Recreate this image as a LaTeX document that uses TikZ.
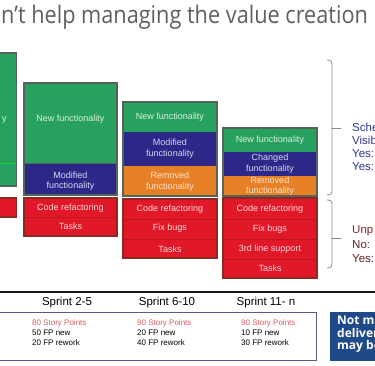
\documentclass[tikz,border=0pt]{standalone}
\usepackage{fontspec}
\setmainfont{Liberation Sans}
\newfontfamily\titlefont{Open Sans}
\definecolor{grn}{RGB}{40,160,95}
\definecolor{ind}{RGB}{45,40,135}
\definecolor{org}{RGB}{232,128,40}
\definecolor{rd}{RGB}{224,24,40}
\definecolor{rdedge}{RGB}{140,42,34}
\definecolor{frame}{RGB}{85,100,88}
\definecolor{ttl}{RGB}{95,95,95}
\definecolor{brc}{RGB}{138,138,138}
\definecolor{schd}{RGB}{46,54,140}
\definecolor{unpl}{RGB}{130,40,40}
\definecolor{pinkt}{RGB}{214,92,100}
\definecolor{nbox}{RGB}{31,74,138}
\definecolor{sprbox}{RGB}{90,90,138}
\begin{document}
\begin{tikzpicture}[x=1pt,y=-1pt,
  lbl/.style={inner sep=0, align=center, font=\fontsize{9}{10.5}\selectfont},
  lg/.style={lbl, text={rgb,255:red,215;green,242;blue,222}},
  lb/.style={lbl, text={rgb,255:red,215;green,212;blue,245}},
  lo/.style={lbl, text={rgb,255:red,252;green,228;blue,205}},
  lr/.style={lbl, text={rgb,255:red,252;green,215;blue,218}},
  stackframe/.style={draw=frame, line width=1.1pt},
  redframe/.style={draw=rdedge, line width=1.1pt},
  sep/.style={draw={rgb,255:red,190;green,20;blue,32}, line width=0.6pt},
  brace/.style={draw=brc, line width=0.8pt, line cap=round},
  side/.style={inner sep=0, anchor=west, font=\fontsize{11.5}{13}\selectfont},
  spr/.style={inner sep=0, font=\fontsize{11.5}{13}\selectfont},
  pts/.style={inner sep=0, anchor=north west, align=left, font=\fontsize{8}{10}\selectfont}
]
\useasboundingbox (0,0) rectangle (375,366);

% title
\node[anchor=base west, inner sep=0, text=ttl, font=\titlefont\fontsize{21.7}{24}\selectfont] (title) at (1,24) {\scalebox{1}[1.12]{n’t help managing the value creation}};

% column 1 (cut off)
\fill[grn] (-3,53) rectangle (16.5,186);
\draw[line width=0.6pt, green!60!grn] (-3,163) -- (16.5,163);
\draw[stackframe] (-3,53) rectangle (16.5,186);
\node[lg, anchor=west] (c1t) at (2,120) {y};
\fill[rd] (-3,198) rectangle (16.5,217);
\draw[redframe] (-3,198) rectangle (16.5,217);

% column 2
\fill[grn] (24,83) rectangle (117,163);
\fill[ind] (24,163) rectangle (117,195);
\draw[frame, line width=0.8pt] (24,163) -- (117,163);
\draw[stackframe] (24,83) rectangle (117,195);
\node[lg] (c2a) at (70.5,119) {New functionality};
\node[lb] (c2b) at (70.5,181) {Modified\\functionality};
\fill[rd] (24,198) rectangle (117,236);
\draw[sep] (24,217) -- (117,217);
\draw[redframe] (24,198) rectangle (117,236);
\node[lr] (c2c) at (70.5,208) {Code refactoring};
\node[lr] (c2d) at (70.5,226.5) {Tasks};

% column 3
\fill[grn] (123,102) rectangle (217,132);
\fill[ind] (123,132) rectangle (217,166);
\fill[org] (123,166) rectangle (217,196);
\draw[stackframe] (123,102) rectangle (217,196);
\node[lg] (c3a) at (170,117) {New functionality};
\node[lb] (c3b) at (170,148.5) {Modified\\functionality};
\node[lo] (c3c) at (170,181.5) {Removed\\functionality};
\fill[rd] (123,199) rectangle (217,258);
\draw[sep] (123,219) -- (217,219);
\draw[sep] (123,239) -- (217,239);
\draw[redframe] (123,199) rectangle (217,258);
\node[lr] (c3d) at (170,209) {Code refactoring};
\node[lr] (c3e) at (170,228.5) {Fix bugs};
\node[lr] (c3f) at (170,249) {Tasks};

% column 4
\fill[grn] (223,128) rectangle (317,152);
\fill[ind] (223,152) rectangle (317,176);
\fill[org] (223,176) rectangle (317,196);
\draw[stackframe] (223,128) rectangle (317,196);
\node[lg] (c4a) at (270,140) {New functionality};
\node[lb] (c4b) at (270,163.5) {Changed\\functionality};
\node[lo] (c4c) at (270,186) {Removed\\functionality};
\fill[rd] (223,198) rectangle (317,278);
\draw[sep] (223,219) -- (317,219);
\draw[sep] (223,239) -- (317,239);
\draw[sep] (223,259) -- (317,259);
\draw[redframe] (223,198) rectangle (317,278);
\node[lr] (c4d) at (270,209) {Code refactoring};
\node[lr] (c4e) at (270,229) {Fix bugs};
\node[lr] (c4f) at (270,249) {3rd line support};
\node[lr] (c4g) at (270,268.5) {Tasks};

% braces
\draw[brace] (327,60) .. controls (331,60) and (332,61) .. (332,65) -- (332,190) .. controls (332,194) and (331,195) .. (327,195);
\draw[brace] (332,128) -- (341,128);
\draw[brace] (327,200) .. controls (331,200) and (332,201) .. (332,205) -- (332,263) .. controls (332,267) and (331,268) .. (327,268);
\draw[brace] (332,238) -- (341,238);

% side texts
\node[side, text=schd] (s1) at (352,127) {Sche};
\node[side, text=schd] (s2) at (352,140) {Visib};
\node[side, text=schd] (s3) at (352,153.5) {Yes:};
\node[side, text=schd] (s4) at (352,167) {Yes:};
\node[side, text=unpl] (u1) at (352,231) {Unp};
\node[side, text=unpl!80!black] (u2) at (352,245) {No:};
\node[side, text=unpl!80!black] (u3) at (352,259) {Yes:};

% timeline
\draw[line width=2.2pt, black!90] (0,292) -- (375,292);
\node[spr] (sp1) at (67,303) {Sprint 2-5};
\node[spr] (sp2) at (167,303) {Sprint 6-10};
\node[spr] (sp3) at (266,303) {Sprint 11- n};

% story points box
\draw[draw=sprbox, line width=1pt] (-2,312) rectangle (316,360);
\node[pts] (p1) at (32,319.5) {\textcolor{pinkt}{80 Story Points}\\50 FP new\\20 FP rework};
\node[pts] (p2) at (137,319.5) {\textcolor{pinkt}{80 Story Points}\\20 FP new\\40 FP rework};
\node[pts] (p3) at (241,319.5) {\textcolor{pinkt}{80 Story Points}\\10 FP new\\30 FP rework};

% blue note
\fill[nbox] (330,312) rectangle (380,361);
\node[inner sep=0, anchor=north west, align=left, text=white, font=\titlefont\bfseries\fontsize{12}{12.5}\selectfont] (note) at (337,316) {Not ma\\deliver\\may be};
\end{tikzpicture}
\end{document}
